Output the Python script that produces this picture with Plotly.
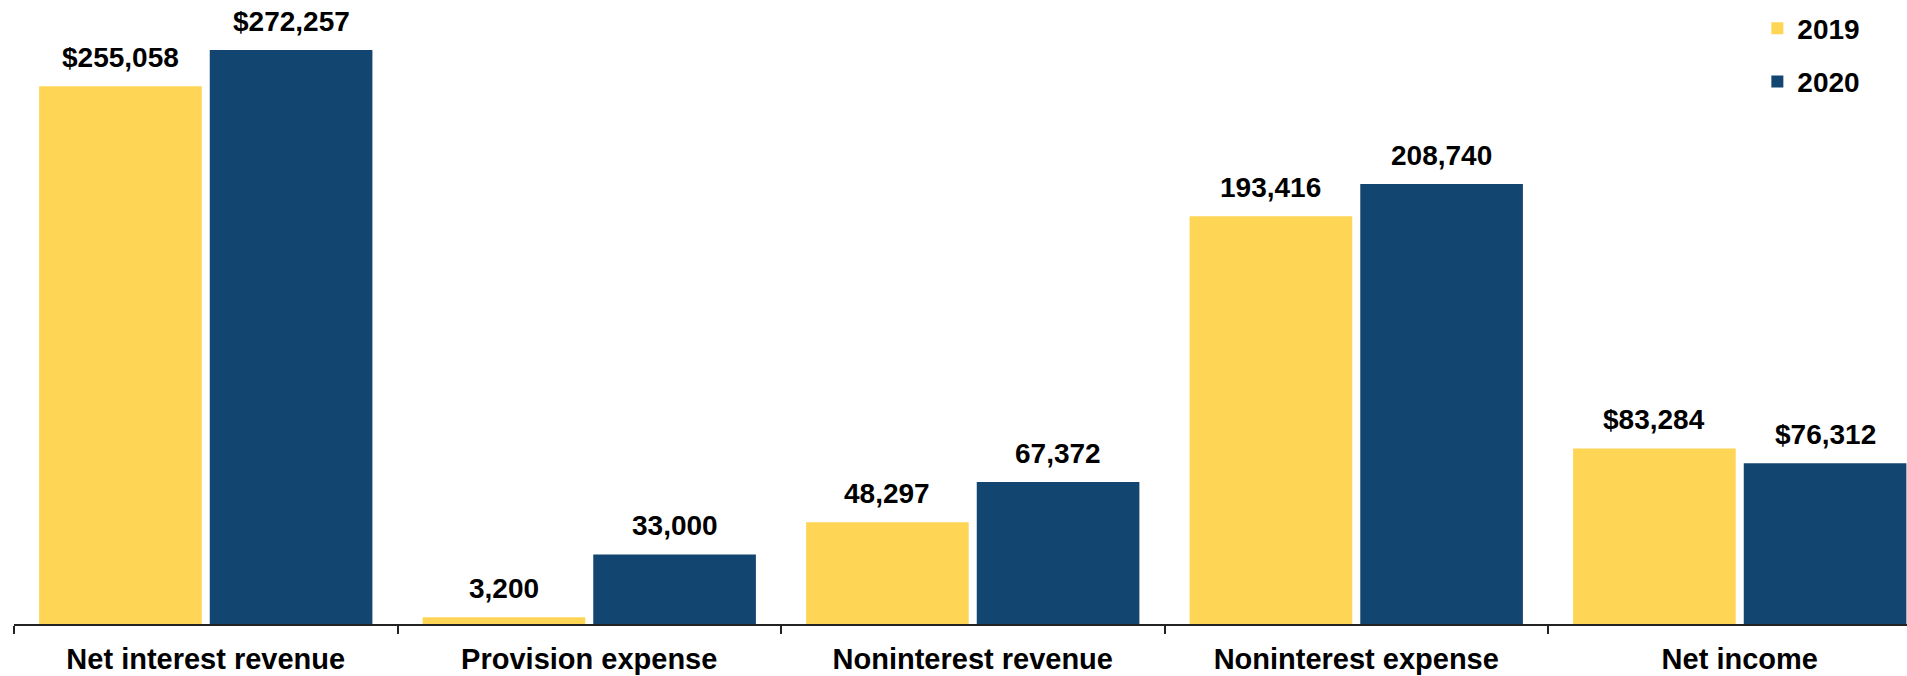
import plotly.graph_objects as go

# Income statement items, thousands of dollars
CATEGORIES = ['Net interest revenue', 'Provision expense', 'Noninterest revenue',
              'Noninterest expense', 'Net income']
VALUES_2019 = [255058, 3200, 48297, 193416, 83284]
VALUES_2020 = [272257, 33000, 67372, 208740, 76312]
LABELS_2019 = ['$255,058', '3,200', '48,297', '193,416', '$83,284']
LABELS_2020 = ['$272,257', '33,000', '67,372', '208,740', '$76,312']

YELLOW = '#FFD556'
BLUE = '#134571'
FONT = 'Liberation Sans, Arial, sans-serif'

BARGAP = 0.11
CAT_PX = 383.5                          # pixel width of one category slot
SLOT_PX = (1 - BARGAP) * CAT_PX / 2     # pixel width of one bar slot

fig = go.Figure()
fig.add_trace(go.Bar(x=CATEGORIES, y=VALUES_2019, name='2019', marker_color=YELLOW,
                     marker_line_width=0, legendgroup='a', hoverinfo='x+y'))
fig.add_trace(go.Bar(x=CATEGORIES, y=VALUES_2020, name='2020', marker_color=BLUE,
                     marker_line_width=0, legendgroup='b', hoverinfo='x+y'))

# value labels above the bars
for vals, labels, side in [(VALUES_2019, LABELS_2019, -1), (VALUES_2020, LABELS_2020, 1)]:
    for cat, v, lab in zip(CATEGORIES, vals, labels):
        fig.add_annotation(x=cat, y=v, text=f'<b>{lab}</b>', showarrow=False,
                           xanchor='center', yanchor='bottom',
                           xshift=side * SLOT_PX / 2, yshift=11,
                           font=dict(size=28, color='black', family=FONT))

fig.update_layout(
    barmode='group', bargap=BARGAP, bargroupgap=0.047,
    width=1907, height=676,
    paper_bgcolor='white', plot_bgcolor='white',
    font=dict(family=FONT, color='black'),
    margin=dict(l=14, r=0, t=0, b=52, autoexpand=False),
    showlegend=True,
    legend=dict(x=0.978, y=0.9945, xanchor='right', yanchor='top',
                font=dict(size=28, family=FONT, color='black', weight='bold'),
                tracegroupgap=14, bgcolor='rgba(0,0,0,0)', itemwidth=30),
    xaxis=dict(range=[-0.5, -0.5 + 1893 / CAT_PX], showline=True, linecolor='#222222',
               linewidth=2, ticks='outside', tickson='boundaries', ticklen=8,
               tickwidth=2, tickcolor='#222222', showgrid=False, zeroline=False,
               automargin=False, ticklabelstandoff=8,
               tickfont=dict(size=29, family=FONT, color='black', weight='bold')),
    yaxis=dict(range=[0, 296000], visible=False, showgrid=False, zeroline=False,
               automargin=False),
)

# drop the default page margin so the figure sits flush in the window
fig.write_html('out.html', config={'displayModeBar': False},
               post_script="document.body.style.margin='0';")
